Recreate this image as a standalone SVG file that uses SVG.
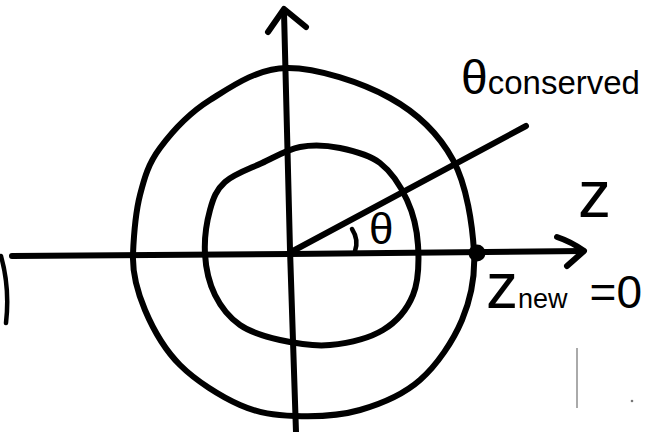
<svg xmlns="http://www.w3.org/2000/svg" width="655" height="432" viewBox="0 0 655 432">
<style>
.ln{fill:none;stroke:#000;stroke-width:6;stroke-linecap:round;stroke-linejoin:round}
.th{fill:none;stroke:#000;stroke-width:4.5;stroke-linecap:round}
.tx{font-family:"Liberation Sans",Arial,sans-serif;fill:#000}
</style>
<rect width="655" height="432" fill="#fff"/>
<g id="outer-circle">
<path class="ln" d="M287,68 C317,67.7 362.3,82.7 390,98 C417.7,113.3 439,134.3 453,160 C467,185.7 472.5,225.3 474,252 C475.5,278.7 471,298.7 462,320 C453,341.3 437,365 420,380 C403,395 380.8,404 360,410 C339.2,416 315,416.8 295,416 C275,415.2 259.2,413.5 240,405 C220.8,396.5 195.8,380.8 180,365 C164.2,349.2 152.8,328.5 145,310 C137.2,291.5 132.2,273.2 133,254 C133.8,234.8 135.5,212.7 140,195 C144.5,177.3 148.3,163.8 160,148 C171.7,132.2 188.8,113.3 210,100 C231.2,86.7 257,68.3 287,68 Z"/>
</g>
<g id="inner-circle">
<path class="ln" d="M300,147 C313,144.5 326.7,145.3 340,148 C353.3,150.7 368.8,154.3 380,163 C391.2,171.7 400.7,186.3 407,200 C413.3,213.7 417,229.2 418,245 C419,260.8 418.8,280.8 413,295 C407.2,309.2 396.8,321.7 383,330 C369.2,338.3 347.2,343.3 330,345 C312.8,346.7 295,343.3 280,340 C265,336.7 250.8,332.5 240,325 C229.2,317.5 220.8,306.8 215,295 C209.2,283.2 205.8,268.2 205,254 C204.2,239.8 206.7,222 210,210 C213.3,198 216.3,189.8 225,182 C233.7,174.2 249.5,168.8 262,163 C274.5,157.2 287,149.5 300,147 Z"/>
</g>
<g id="connectors">
<path id="z-axis" class="ln" d="M12,256 L290,254 L583,251"/>
<path id="z-arrowhead" class="ln" d="M557,237 Q572,242 584,251 L567,266"/>
<path id="vertical-axis" class="ln" d="M284,12 L290,250 L296,432"/>
<path id="vertical-arrowhead" class="ln" d="M268,32 L284,9 L306,27"/>
<path id="ray" class="ln" d="M291,252 L526,126"/>
<path id="angle-arc" class="th" d="M352,229 Q359,240 355,251"/>
<path id="left-bracket" class="th" d="M1,256 Q10,288 6,323"/>
</g>
<g id="point">
<circle cx="477" cy="253" r="8.5" fill="#000"/>
</g>
<g id="labels">
<text class="tx" x="369" y="244" font-size="44">θ</text>
<text class="tx" x="461" y="94"><tspan font-size="48">θ</tspan><tspan font-size="33">conserved</tspan></text>
<text class="tx" x="578" y="217" font-size="66">z</text>
<text class="tx" x="486" y="308"><tspan font-size="64">z</tspan><tspan font-size="27">new</tspan><tspan font-size="46" dx="22">=</tspan><tspan font-size="46">0</tspan></text>
</g>
<g id="marks">
<line x1="577" y1="348" x2="577" y2="408" stroke="#aaa" stroke-width="2"/>
<circle cx="632" cy="401" r="1.3" fill="#777"/>
</g>
</svg>
